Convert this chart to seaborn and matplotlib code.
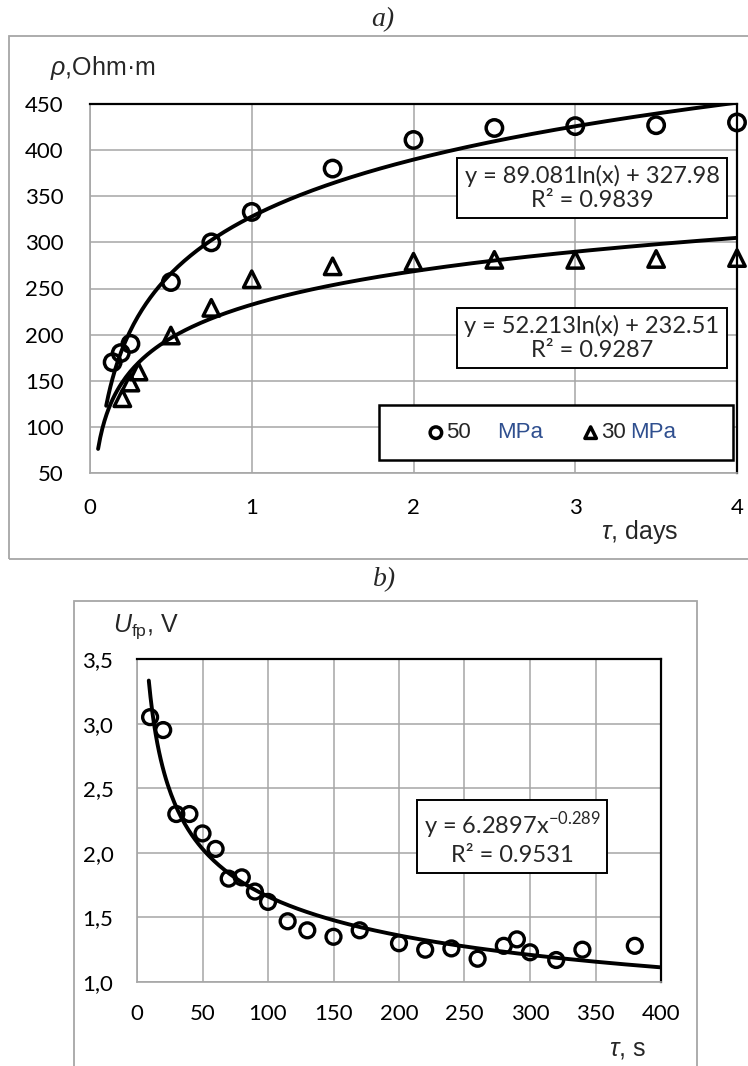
import numpy as np
import matplotlib.pyplot as plt
import seaborn as sns
from matplotlib.patches import Rectangle

# a) resistivity vs hardening time
days_50 = [0.14, 0.19, 0.25, 0.5, 0.75, 1, 1.5, 2, 2.5, 3, 3.5, 4]
rho_50 = [170, 180, 190, 257, 300, 333, 380, 411, 424, 426, 427, 430]
days_30 = [0.2, 0.25, 0.3, 0.5, 0.75, 1, 1.5, 2, 2.5, 3, 3.5, 4]
rho_30 = [131, 148, 160, 199, 229, 260, 274, 279, 281, 281, 282, 283]
# trendlines as printed on the chart: y = a*ln(x) + b, R^2
trend_50 = (89.081, 327.98, 0.9839)
trend_30 = (52.213, 232.51, 0.9287)
trend_start_a = (0.1, 0.05)
ticks_days = [0, 1, 2, 3, 4]
ticks_rho = [50, 100, 150, 200, 250, 300, 350, 400, 450]

# b) voltage vs time
time_s = [10, 20, 30, 40, 50, 60, 70, 80, 90, 100, 115, 130, 150, 170,
          200, 220, 240, 260, 280, 290, 300, 320, 340, 380]
u_fp = [3.05, 2.95, 2.30, 2.30, 2.15, 2.03, 1.80, 1.81, 1.70, 1.62, 1.47, 1.40,
        1.35, 1.40, 1.30, 1.25, 1.26, 1.18, 1.28, 1.33, 1.23, 1.17, 1.25, 1.28]
# power trendline: y = c*x^p, R^2
trend_b = (6.2897, -0.289, 0.9531)
trend_start_b = 9
ticks_time = [0, 50, 100, 150, 200, 250, 300, 350, 400]
ticks_u = [1.0, 1.5, 2.0, 2.5, 3.0, 3.5]

W, H = 748, 1066
def fx(px):
    return px / W
def fy(py):
    return 1 - py / H

sns.set_theme(style='white')
plt.rcParams['font.family'] = ['Lato', 'DejaVu Sans']
plt.rcParams['mathtext.fontset'] = 'custom'
plt.rcParams['mathtext.it'] = 'Liberation Sans:italic'
plt.rcParams['mathtext.rm'] = 'Liberation Sans'

GRID = '#a6a6a6'
fig = plt.figure(figsize=(7.48, 10.66), dpi=100)

# outer chart frames
fig.add_artist(Rectangle((fx(9), fy(559)), fx(770) - fx(9), fy(36) - fy(559),
                         transform=fig.transFigure, fill=False, ec=GRID, lw=1.3))
fig.add_artist(Rectangle((fx(74), fy(1090)), fx(697) - fx(74), fy(601) - fy(1090),
                         transform=fig.transFigure, fill=False, ec=GRID, lw=1.3))

ax1 = fig.add_axes([fx(90), fy(473), fx(737) - fx(90), fy(104) - fy(473)])
ax2 = fig.add_axes([fx(137), fy(982), fx(661) - fx(137), fy(659) - fy(982)])


def style_axes(ax, pad_y, pad_x):
    ax.grid(True, color=GRID, lw=1.1)
    ax.set_axisbelow(True)
    for s in ['left', 'bottom']:
        ax.spines[s].set_color(GRID)
        ax.spines[s].set_linewidth(1.2)
    for s in ['top', 'right']:
        ax.spines[s].set_color('black')
        ax.spines[s].set_linewidth(1.6)
    ax.tick_params(axis='y', length=0, pad=pad_y, labelsize=16, labelcolor='black')
    ax.tick_params(axis='x', length=0, pad=pad_x, labelsize=16, labelcolor='black')
    ax.set_xlabel('')
    ax.set_ylabel('')


# ---- chart a ----
for (a, b, r2), x0 in zip([trend_50, trend_30], trend_start_a):
    xs = np.linspace(x0, 4, 300)
    sns.lineplot(x=xs, y=a * np.log(xs) + b, ax=ax1, color='black', lw=2.8,
                 estimator=None, sort=False, zorder=2)

sns.scatterplot(x=days_50, y=rho_50, ax=ax1, marker='o', s=140, facecolor='none',
                edgecolor='black', linewidth=2.5, label='50', zorder=3, clip_on=False)
sns.scatterplot(x=days_30, y=rho_30, ax=ax1, marker='^', s=140, facecolor='none',
                edgecolor='black', linewidth=2.5, label='30', zorder=3, clip_on=False)

ax1.set_xlim(0, 4)
ax1.set_ylim(50, 450)
ax1.set_xticks(ticks_days)
ax1.set_yticks(ticks_rho)
style_axes(ax1, 19, 18)

box = dict(boxstyle='square,pad=0.3', fc='white', ec='black', lw=1.4)
for (a, b, r2), yc in zip([trend_50, trend_30], [188, 338]):
    fig.text(fx(592), fy(yc), f'y = {a}ln(x) + {b}\nR² = {r2}', ha='center', va='center',
             fontsize=17, multialignment='center', linespacing=1.2, bbox=box, zorder=6)

# legend
ax1.add_patch(Rectangle((fx(379), fy(460)), fx(733) - fx(379), fy(405) - fy(460),
                        transform=fig.transFigure, fc='white', ec='black', lw=1.8,
                        clip_on=False, zorder=4))
leg = ax1.legend(loc='center left', bbox_to_anchor=(fx(427), fy(433)),
                 bbox_transform=fig.transFigure, ncol=2, frameon=False,
                 handlelength=0.8, handletextpad=0.05, columnspacing=5.0,
                 borderpad=0, borderaxespad=0, markerscale=0.7,
                 prop={'family': 'Liberation Sans', 'size': 16})
leg.set_zorder(5)

fig.text(fx(50), fy(68), r'$\rho$,Ohm·m', ha='left', va='center', fontsize=18,
         family='Liberation Sans')
fig.text(fx(640), fy(532), r'$\tau$, days', ha='center', va='center', fontsize=18,
         family='Liberation Sans')
fig.text(fx(383), fy(20), 'a)', ha='center', va='center', fontsize=20,
         family='Liberation Serif', style='italic')

# ---- chart b ----
c, p, r2b = trend_b
xs = np.linspace(trend_start_b, 400, 300)
sns.lineplot(x=xs, y=c * xs ** p, ax=ax2, color='black', lw=2.8,
             estimator=None, sort=False, zorder=2)
sns.scatterplot(x=time_s, y=u_fp, ax=ax2, marker='o', s=115, facecolor='none',
                edgecolor='black', linewidth=2.4, zorder=3, clip_on=False)
ax2.set_xlim(0, 400)
ax2.set_ylim(1.0, 3.5)
ax2.set_xticks(ticks_time)
ax2.set_yticks(ticks_u)
ax2.set_yticklabels([f'{v:.1f}'.replace('.', ',') for v in ticks_u])
style_axes(ax2, 17, 16)

fig.text(fx(512), fy(838), f'y = {c}x$^{{\\mathregular{{{p}}}}}$\nR² = {r2b}',
         ha='center', va='center', fontsize=17, multialignment='center',
         linespacing=1.2, bbox=box, zorder=6)
fig.text(fx(113), fy(627), r'$\mathit{U}_{\mathregular{fp}}$, V', ha='left', va='center',
         fontsize=18, family='Liberation Sans')
fig.text(fx(627), fy(1049), r'$\tau$, s', ha='center', va='center', fontsize=18,
         family='Liberation Sans')
fig.text(fx(385), fy(580), 'b)', ha='center', va='center', fontsize=20,
         family='Liberation Serif', style='italic')

# "MPa" in blue after each legend number
fig.canvas.draw()
renderer = fig.canvas.get_renderer()
for t, gap in zip(leg.get_texts(), [26, 5]):
    bb = t.get_window_extent(renderer)
    xf, yf = fig.transFigure.inverted().transform((bb.x1 + gap, (bb.y0 + bb.y1) / 2))
    fig.text(xf, yf, 'MPa', ha='left', va='center', fontsize=16, color='#2f4f8f',
             family='Liberation Sans', zorder=7)

fig.savefig('out.png', dpi=100)
